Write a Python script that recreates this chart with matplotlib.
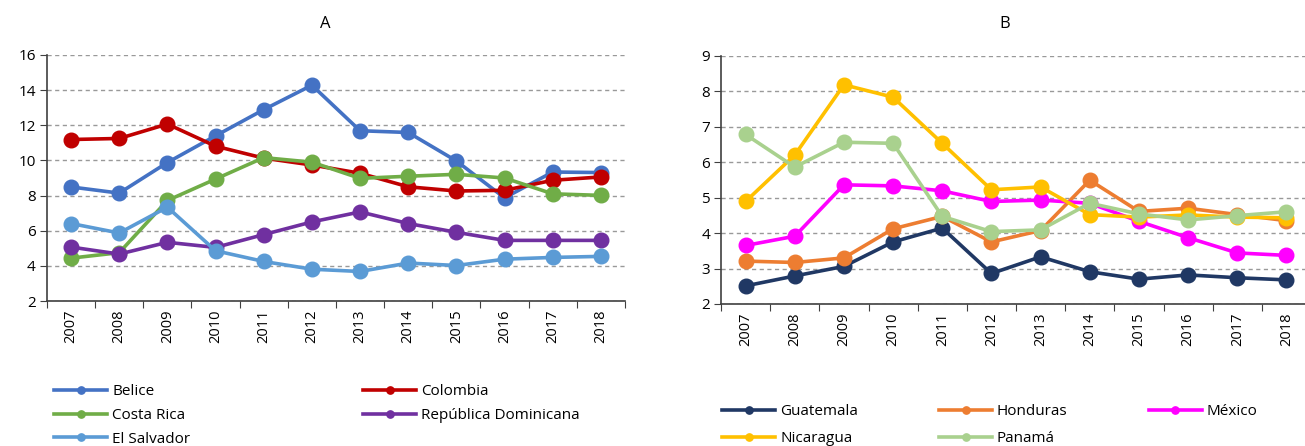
import numpy as np
import matplotlib
matplotlib.use("Agg")
from matplotlib import pyplot as plt

plt.rcParams['font.family'] = ['Open Sans', 'DejaVu Sans']

years = [str(y) for y in range(2007, 2019)]

# panel A
belice = [8.49, 8.14, 9.88, 11.40, 12.89, 14.28, 11.69, 11.59, 9.97, 7.87, 9.34, 9.31]
colombia = [11.19, 11.25, 12.07, 10.81, 10.13, 9.74, 9.27, 8.50, 8.26, 8.30, 8.87, 9.06]
costa_rica = [4.44, 4.75, 7.72, 8.94, 10.16, 9.90, 8.98, 9.10, 9.21, 9.00, 8.10, 8.01]
rep_dom = [5.07, 4.67, 5.34, 5.05, 5.78, 6.50, 7.07, 6.41, 5.91, 5.45, 5.45, 5.45]
el_salvador = [6.41, 5.87, 7.34, 4.86, 4.25, 3.81, 3.68, 4.16, 4.02, 4.38, 4.48, 4.54]

# panel B
guatemala = [2.51, 2.79, 3.06, 3.75, 4.14, 2.86, 3.33, 2.91, 2.70, 2.82, 2.74, 2.68]
honduras = [3.21, 3.17, 3.30, 4.12, 4.47, 3.75, 4.07, 5.49, 4.61, 4.70, 4.52, 4.35]
mexico = [3.65, 3.91, 5.36, 5.33, 5.19, 4.89, 4.93, 4.84, 4.33, 3.87, 3.44, 3.37]
nicaragua = [4.89, 6.20, 8.18, 7.83, 6.53, 5.22, 5.30, 4.52, 4.45, 4.51, 4.45, 4.43]
panama = [6.78, 5.86, 6.56, 6.53, 4.47, 4.04, 4.09, 4.84, 4.54, 4.37, 4.49, 4.60]

series_a = [("Belice", belice, "#4472C4"),
            ("Colombia", colombia, "#C00000"),
            ("Costa Rica", costa_rica, "#70AD47"),
            ("República Dominicana", rep_dom, "#7030A0"),
            ("El Salvador", el_salvador, "#5B9BD5")]
series_b = [("Guatemala", guatemala, "#203864"),
            ("Honduras", honduras, "#ED7D31"),
            ("México", mexico, "#FF00FF"),
            ("Nicaragua", nicaragua, "#FFC000"),
            ("Panamá", panama, "#A9D18E")]


def style_axes(ax, ymin, ymax, ystep):
    x = np.arange(len(years))
    ax.set_xlim(-0.5, len(years) - 0.5)
    ax.set_ylim(ymin, ymax)
    ax.set_yticks(range(ymin, ymax + 1, ystep))
    ax.yaxis.grid(True, linestyle=(0, (3, 2.5)), color='#999999', linewidth=1)
    ax.set_axisbelow(True)
    ax.set_xticks(np.arange(len(years) + 1) - 0.5)
    ax.set_xticklabels([])
    ax.set_xticks(x, minor=True)
    ax.set_xticklabels(years, minor=True, rotation=90, fontsize=10.5)
    ax.tick_params(axis='x', which='major', length=5, color='#404040')
    ax.tick_params(axis='x', which='minor', length=0, pad=6)
    ax.tick_params(axis='y', length=5, color='#404040', labelsize=11, pad=3)
    for s in ['top', 'right']:
        ax.spines[s].set_visible(False)
    for s in ['left', 'bottom']:
        ax.spines[s].set_color('#404040')
        ax.spines[s].set_linewidth(1.2)


fig = plt.figure(figsize=(13.05, 4.46), dpi=100)
ax1 = fig.add_axes([0.0360, 0.3251, 0.4429, 0.5516])
ax2 = fig.add_axes([0.5525, 0.3184, 0.4521, 0.5567])

for name, vals, c in series_a:
    ax1.plot(range(len(years)), vals, color=c, lw=2.6, marker='o', ms=10.5, label=name)
for name, vals, c in series_b:
    ax2.plot(range(len(years)), vals, color=c, lw=2.6, marker='o', ms=10.5, label=name)

style_axes(ax1, 2, 16, 2)
style_axes(ax2, 2, 9, 1)

fig.text(325 / 1305, 1 - 24 / 446, "A", ha='center', va='center', fontsize=12)
fig.text(1005 / 1305, 1 - 24 / 446, "B", ha='center', va='center', fontsize=12)

# legends read row by row, matplotlib fills column by column
h1, l1 = ax1.get_legend_handles_labels()
order1 = [0, 2, 4, 1, 3]
fig.legend([h1[i] for i in order1], [l1[i] for i in order1], loc='upper left',
           bbox_to_anchor=(54 / 1305, 1 - 384 / 446), ncol=2, frameon=False,
           fontsize=11, handlelength=3.5, handletextpad=0.3,
           columnspacing=11.3, labelspacing=0.58, markerscale=0.5,
           borderaxespad=0, borderpad=0)
h2, l2 = ax2.get_legend_handles_labels()
order2 = [0, 3, 1, 4, 2]
fig.legend([h2[i] for i in order2], [l2[i] for i in order2], loc='upper left',
           bbox_to_anchor=(722 / 1305, 1 - 404 / 446), ncol=3, frameon=False,
           fontsize=11, handlelength=3.5, handletextpad=0.3,
           columnspacing=5.3, labelspacing=0.8, markerscale=0.5,
           borderaxespad=0, borderpad=0)

fig.savefig("out.png", dpi=100)
